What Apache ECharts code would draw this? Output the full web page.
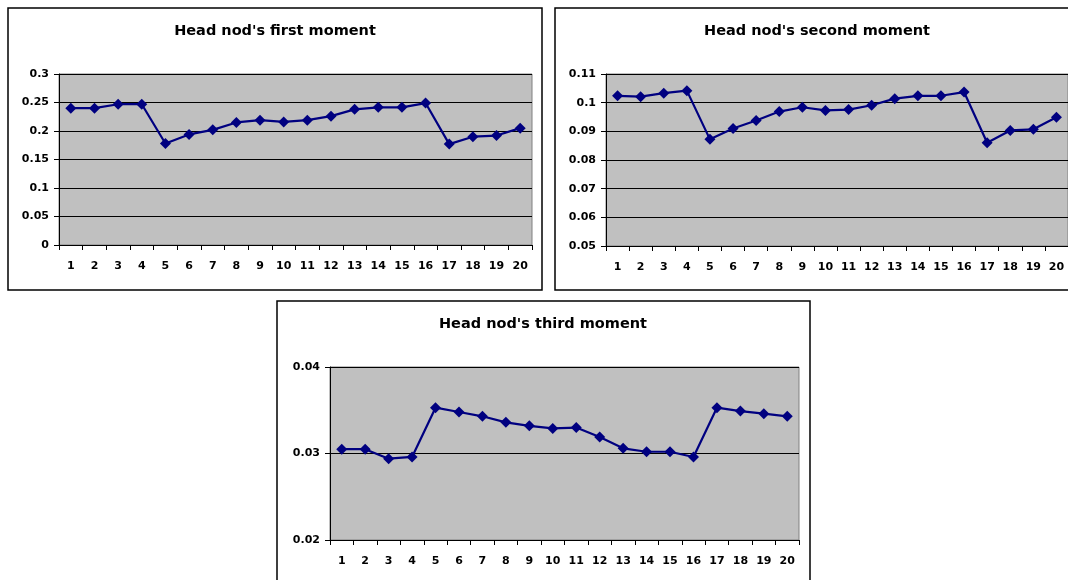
<!DOCTYPE html>
<html>
<head>
<meta charset="utf-8">
<script src="https://cdn.jsdelivr.net/npm/echarts@6/dist/echarts.min.js"></script>
<style>
html,body{margin:0;padding:0;background:#fff;}
#c{width:1068px;height:580px;}
</style>
</head>
<body>
<div id="c"></div>
<script>
const categories = ['1','2','3','4','5','6','7','8','9','10','11','12','13','14','15','16','17','18','19','20'];
const titles = ["Head nod's first moment", "Head nod's second moment", "Head nod's third moment"];
const firstMoment = [0.240,0.240,0.247,0.247,0.178,0.194,0.202,0.215,0.219,0.216,0.219,0.226,0.238,0.2415,0.2415,0.249,0.177,0.190,0.192,0.205];
const secondMoment = [0.1024,0.1021,0.1033,0.1042,0.0872,0.0910,0.0938,0.0969,0.0984,0.0973,0.0976,0.0991,0.1014,0.1024,0.1024,0.1037,0.0860,0.0903,0.0907,0.0949];
const thirdMoment = [0.0305,0.0305,0.0294,0.0296,0.0353,0.0348,0.0343,0.0336,0.0332,0.0329,0.0330,0.0319,0.0306,0.0302,0.0302,0.0296,0.0353,0.0349,0.0346,0.0343];
const yRanges = [[0,0.3,0.05],[0.05,0.11,0.01],[0.02,0.04,0.01]];

const FONT = 'DejaVu Sans, sans-serif';
const panels = [
  {box:[8,8,534,282], grid:{left:59,top:74,width:473,height:171}, titleX:275, titleY:24},
  {box:[555,8,524,282], grid:{left:606,top:74,width:463,height:172}, titleX:817, titleY:24},
  {box:[277,301,533,290], grid:{left:330,top:367,width:469,height:173}, titleX:543, titleY:317}
];
const seriesData = [firstMoment, secondMoment, thirdMoment];

const option = {
  backgroundColor:'#fff',
  animation:false,
  title: panels.map((p,i)=>({
    text: titles[i], left: p.titleX, top: p.titleY, textAlign:'center', padding:0,
    textStyle:{fontFamily:FONT,fontSize:14.5,fontWeight:'bold',color:'#000'}
  })),
  graphic: panels.map(p=>({
    type:'rect', shape:{x:p.box[0],y:p.box[1],width:p.box[2],height:p.box[3]},
    style:{fill:null,stroke:'#000',lineWidth:1.5}, z:-1
  })),
  grid: panels.map(p=>Object.assign({show:true,backgroundColor:'#C0C0C0',borderColor:'#808080',borderWidth:1},p.grid)),
  xAxis: panels.map((p,i)=>({
    type:'category', gridIndex:i, data:categories, boundaryGap:true,
    axisLine:{lineStyle:{color:'#000',width:1}},
    axisTick:{show:true,length:5,lineStyle:{color:'#000'}},
    axisLabel:{fontFamily:FONT,fontSize:11,fontWeight:'bold',color:'#000',margin:16,interval:0}
  })),
  yAxis: panels.map((p,i)=>({
    type:'value', gridIndex:i, min:yRanges[i][0], max:yRanges[i][1], interval:yRanges[i][2],
    axisLine:{show:true,lineStyle:{color:'#000',width:1}},
    axisTick:{show:true,length:5,lineStyle:{color:'#000'}},
    axisLabel:{fontFamily:FONT,fontSize:11,fontWeight:'bold',color:'#000',margin:10},
    splitLine:{show:true,lineStyle:{color:'#000',width:1}}
  })),
  series: seriesData.map((d,i)=>({
    type:'line', xAxisIndex:i, yAxisIndex:i, data:d,
    symbol:'diamond', symbolSize:11,
    lineStyle:{color:'#000080',width:2.2},
    itemStyle:{color:'#000080'}
  }))
};
const chart = echarts.init(document.getElementById('c'), null, {renderer:'canvas'});
chart.setOption(option);
</script>
</body>
</html>
